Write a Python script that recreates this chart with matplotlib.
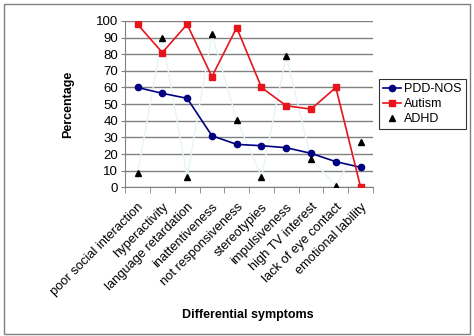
import matplotlib.pyplot as plt
import numpy as np
from matplotlib.patches import Rectangle

plt.rcParams['font.family'] = ['Liberation Sans', 'DejaVu Sans']

symptoms = ['poor social interaction', 'hyperactivity', 'language retardation',
            'inattentiveness', 'not responsiveness', 'stereotypies',
            'impulsiveness', 'high TV interest', 'lack of eye contact',
            'emotional lability']
pdd_nos = [60, 56.5, 53.5, 31, 25.8, 25, 23.8, 20.4, 15.4, 12]
autism = [98, 81, 98, 66.5, 96, 60, 49, 47, 60, 0]
adhd = [8.5, 90, 6.3, 92, 40.5, 6.4, 79, 17, 1, 27.5]

fig = plt.figure(figsize=(4.74, 3.36), dpi=100)
ax = fig.add_axes([0.264, 0.4426, 0.523, 0.495])

x = np.arange(len(symptoms))

# faint connecting line for ADHD, then the markers
ax.plot(x, adhd, color='#e6f5f8', lw=1, zorder=2)
ax.plot(x, pdd_nos, color='#000080', marker='o', ms=4.5, lw=1.2,
        label='PDD-NOS', zorder=3)
ax.plot(x, autism, color='#e8141c', marker='s', ms=4.5, lw=1.2,
        label='Autism', zorder=3)
ax.plot(x, adhd, color='black', marker='^', ms=5, lw=0,
        label='ADHD', zorder=4)

ax.set_xlim(-0.5, len(symptoms) - 0.5)
ax.set_ylim(0, 100)
ax.set_yticks(range(0, 101, 10))
ax.yaxis.grid(True, color='#808080', lw=1)
ax.set_axisbelow(True)

ax.set_xticks(x)
ax.set_xticklabels(symptoms, rotation=45, ha='right', rotation_mode='anchor',
                   fontsize=9.3)
ax.tick_params(axis='x', length=0, pad=10)
ax.set_xticks(np.arange(-0.5, len(symptoms)), minor=True)
ax.tick_params(axis='x', which='minor', length=4, color='#808080')
ax.tick_params(axis='y', labelsize=9.5, length=3, color='#808080', pad=2)

for s in ['top', 'right']:
    ax.spines[s].set_visible(False)
for s in ['left', 'bottom']:
    ax.spines[s].set_color('#808080')

ax.set_ylabel('Percentage', fontsize=9, fontweight='bold', labelpad=16)
fig.text(0.523, 0.062, 'Differential symptoms', fontsize=9,
         fontweight='bold', ha='center', va='center')

leg = ax.legend(loc='center left', bbox_to_anchor=(1.01, 0.5), fontsize=9,
                frameon=True, fancybox=False, borderpad=0.3,
                handlelength=1.4, handletextpad=0.3, labelspacing=0.25,
                borderaxespad=0.3)
leg.get_frame().set_edgecolor('black')
leg.get_frame().set_linewidth(0.8)

fig.patches.append(Rectangle((0.009, 0.006), 0.982, 0.982, transform=fig.transFigure,
                             fill=False, edgecolor='#808080', lw=1))

fig.savefig('out.png', dpi=100)
